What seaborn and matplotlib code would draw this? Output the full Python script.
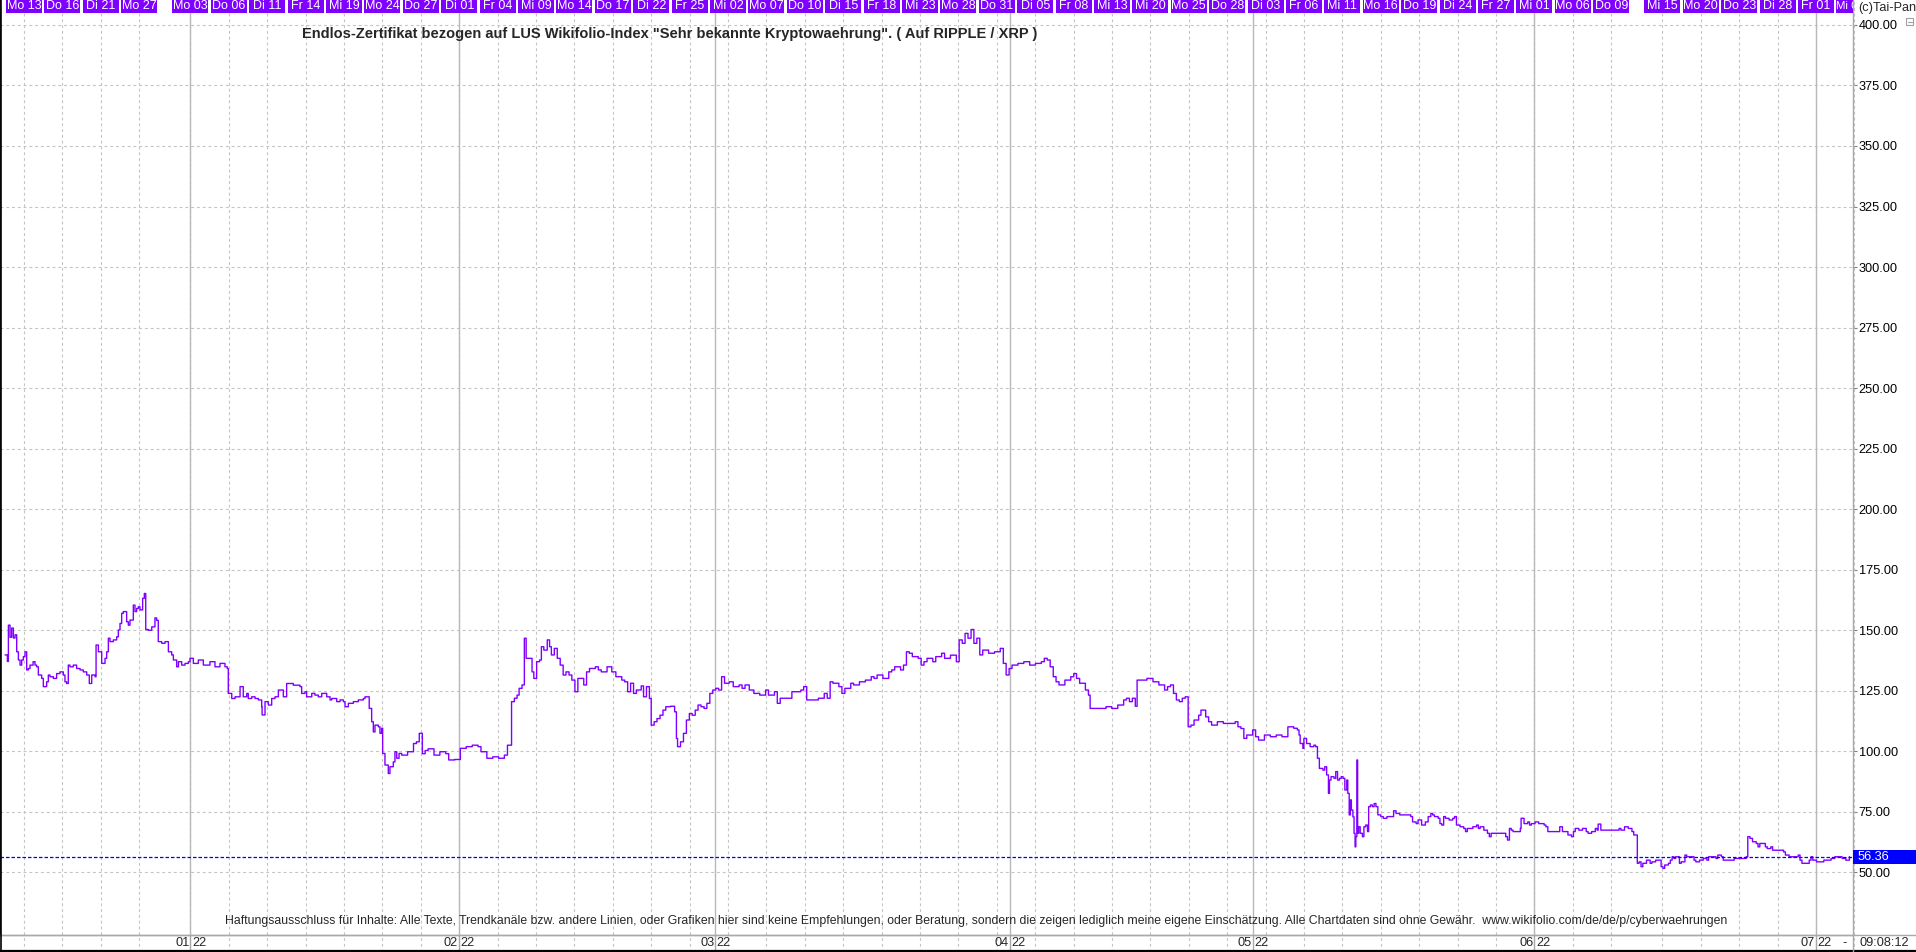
import matplotlib
matplotlib.use("Agg")
import matplotlib.pyplot as plt
import matplotlib.transforms as mtransforms
from matplotlib.patches import Rectangle
from matplotlib.lines import Line2D
import pandas as pd
import seaborn as sns

# ---------------- data ----------------
title = ('Endlos-Zertifikat bezogen auf LUS Wikifolio-Index "Sehr bekannte Kryptowaehrung". '
         '( Auf RIPPLE / XRP )')
footer = ('Haftungsausschluss für Inhalte: Alle Texte, Trendkanäle bzw. andere Linien, oder Grafiken hier '
          'sind keine Empfehlungen, oder Beratung, sondern die zeigen lediglich meine eigene Einschätzung. '
          'Alle Chartdaten sind ohne Gewähr.  www.wikifolio.com/de/de/p/cyberwaehrungen')
copyright_text = "(c)Tai-Pan"
time_text = "09:08:12"

calendar_start = "2021-12-13"
calendar_end = "2022-07-08"
holidays = ["2021-12-24", "2021-12-31", "2022-04-15", "2022-04-18"]

header_dates = ["2021-12-13", "2021-12-16", "2021-12-21", "2021-12-27",
                "2022-01-03", "2022-01-06", "2022-01-11", "2022-01-14", "2022-01-19", "2022-01-24", "2022-01-27",
                "2022-02-01", "2022-02-04", "2022-02-09", "2022-02-14", "2022-02-17", "2022-02-22", "2022-02-25",
                "2022-03-02", "2022-03-07", "2022-03-10", "2022-03-15", "2022-03-18", "2022-03-23", "2022-03-28",
                "2022-03-31", "2022-04-05", "2022-04-08", "2022-04-13", "2022-04-20", "2022-04-25", "2022-04-28",
                "2022-05-03", "2022-05-06", "2022-05-11", "2022-05-16", "2022-05-19", "2022-05-24", "2022-05-27",
                "2022-06-01", "2022-06-06", "2022-06-09", "2022-06-15", "2022-06-20", "2022-06-23", "2022-06-28",
                "2022-07-01", "2022-07-06"]
weekday_names = ["Mo", "Di", "Mi", "Do", "Fr"]

month_starts = ["2022-01-03", "2022-02-01", "2022-03-01", "2022-04-01", "2022-05-02", "2022-06-01", "2022-07-01"]
month_left = ["01", "02", "03", "04", "05", "06", "07"]
month_right = ["22", "22", "22", "22", "22", "22", "22"]

y_ticks = [50, 75, 100, 125, 150, 175, 200, 225, 250, 275, 300, 325, 350, 375, 400]
last_price = 56.36

# position in trading days (0 = Mo 13.12.2021)
day = [
    -1.48, -1.30, -1.22, -1.09, -0.96, -0.83, -0.70, -0.57, -0.44, -0.31,
    -0.18, -0.05, 0.08, 0.21, 0.34, 0.47, 0.71, 0.86, 0.99, 1.12,
    1.38, 1.51, 1.77, 1.90, 2.03, 2.29, 2.55, 2.81, 3.07, 3.20,
    3.33, 3.46, 3.59, 3.85, 4.11, 4.38, 4.63, 4.90, 5.10, 5.29,
    5.55, 5.63, 5.81, 6.07, 6.33, 6.46, 6.59, 6.72, 6.98, 7.24,
    7.37, 7.50, 7.63, 7.76, 8.02, 8.15, 8.28, 8.54, 8.67, 8.80,
    8.93, 9.06, 9.27, 9.40, 9.51, 9.71, 9.98, 10.23, 10.36, 10.49,
    10.76, 11.02, 11.28, 11.54, 11.67, 11.93, 12.07, 12.32, 12.58, 12.84,
    12.97, 13.23, 13.62, 14.01, 14.53, 14.92, 15.31, 15.70, 15.88, 15.96,
    16.23, 16.49, 16.88, 17.13, 17.40, 17.52, 17.79, 18.05, 18.31, 18.57,
    18.60, 18.83, 19.09, 19.35, 19.61, 19.87, 20.26, 20.52, 20.78, 21.04,
    21.30, 21.56, 21.69, 21.95, 22.08, 22.48, 22.73, 22.99, 23.26, 23.65,
    23.91, 24.04, 24.17, 24.43, 24.69, 24.95, 25.08, 25.34, 25.73, 26.12,
    26.51, 26.64, 26.90, 26.97, 27.16, 27.29, 27.42, 27.68, 27.81, 27.94,
    28.02, 28.20, 28.46, 28.59, 28.85, 28.98, 29.12, 29.30,
    29.51, 29.97, 30.43, 30.66, 30.88, 31.12, 31.34, 31.57, 32.03, 32.49,
    32.95, 33.18, 33.64, 34.09, 34.55, 35.02, 35.47, 35.70, 36.16, 36.62,
    37.08, 37.53, 37.77, 37.99, 38.09, 38.31, 38.52, 38.68, 38.91, 39.09,
    39.23, 39.45, 39.69, 39.83, 40.05, 40.28, 40.42, 40.61, 40.88, 41.06,
    41.20, 41.43, 41.66, 41.89, 42.12, 42.34, 42.58, 42.80, 43.04, 43.27,
    43.73, 43.95, 44.18, 44.64, 44.87, 45.10, 45.55, 45.92, 46.24, 46.70,
    46.93, 47.16, 47.39, 47.62, 47.84, 48.22, 48.40, 48.63, 48.86, 49.00,
    49.23, 49.45, 49.69, 49.92, 50.14, 50.51, 50.83, 50.97, 51.06, 51.29,
    51.52, 51.75, 51.98, 52.20, 52.44, 52.66, 52.89, 53.13, 53.35, 53.58,
    53.81, 54.04, 54.27, 54.50, 54.73, 55.09, 55.41, 55.87, 56.10, 56.33,
    56.66, 57.02, 57.48, 57.94, 58.16, 58.63, 58.85, 59.08, 59.31, 59.77,
    59.99, 60.69, 60.91, 61.15, 61.60, 62.06, 62.52, 62.75, 62.98, 63.20,
    63.66, 63.90, 64.13, 64.59, 64.81, 65.27, 65.73, 66.19, 66.41, 66.65,
    67.10, 67.56, 67.79, 68.02, 68.48, 68.71, 68.94, 69.16, 69.40, 69.86,
    70.09, 70.31, 70.55, 71.00, 71.23, 71.69, 71.92, 72.38, 72.84, 73.06,
    73.30, 73.52, 73.75, 73.99, 74.21, 74.44, 74.67, 74.90, 75.36, 75.82,
    76.27, 76.51, 76.73, 76.96, 77.19, 77.65, 78.11, 78.57, 79.02, 79.48,
    79.71, 79.94, 80.17, 80.41, 80.63, 80.86, 81.32, 81.78, 82.01, 82.23,
    82.47, 82.92, 83.16, 83.29, 83.61, 84.07, 84.53, 84.98, 85.45, 85.91,
    86.13, 86.36, 86.59, 86.82, 86.96, 87.28, 87.73, 88.20, 88.66, 89.11,
    89.34, 89.57, 89.80, 90.03, 90.26, 90.49, 90.72, 90.95, 91.17, 91.41,
    91.77, 91.95, 92.32, 92.55, 92.78, 93.23, 93.70, 94.16, 94.62, 94.84,
    95.07, 95.30, 95.53, 95.99, 96.22, 96.45, 96.91, 97.37, 97.83, 98.28,
    98.74,
    99.20, 99.48, 99.61, 99.70, 99.91, 99.99, 100.20, 100.48, 100.77, 100.91,
    101.05, 101.20, 101.48, 101.62, 101.77, 101.91, 101.99, 102.11, 102.34, 102.48,
    102.62, 102.77, 102.91, 103.05, 103.19, 103.34, 103.42, 103.53, 103.62, 103.70,
    103.82, 103.91, 103.99, 104.05, 104.13, 104.19, 104.27, 104.39, 104.56, 104.68,
    104.82, 104.96, 105.05, 105.19, 105.34, 105.48, 105.62, 105.77, 106.00, 106.19,
    106.48, 106.76, 107.00, 107.19, 107.48, 107.76, 108.05, 108.34, 108.48, 108.76,
    108.91, 109.19, 109.48, 109.70, 109.91, 110.05, 110.19, 110.48, 110.62, 110.76,
    110.91, 111.05, 111.33, 111.62, 111.76, 111.91, 112.19, 112.48, 112.62, 112.76,
    113.05, 113.19, 113.48, 113.62, 113.76, 114.05, 114.33, 114.48, 114.62, 114.91,
    115.19, 115.48, 115.76, 115.90, 116.05, 116.19, 116.33, 116.62, 116.90, 116.96,
    117.19, 117.48, 117.62, 117.76, 118.05, 118.33, 118.62, 118.76, 118.90, 119.05,
    119.33, 119.76, 119.98, 120.19, 120.62, 120.90, 121.05, 121.19, 121.47, 121.76,
    122.05, 122.19, 122.47, 122.76, 122.90, 122.98, 123.19, 123.47, 123.90, 124.33,
    124.62, 124.76, 125.04, 125.19, 125.33, 125.62, 125.76, 125.98, 126.04, 126.18,
    126.33, 126.47, 126.76, 127.04, 127.18, 127.47, 127.75, 127.90, 128.04, 128.18,
    128.47, 128.62, 128.76, 128.90, 129.04, 129.33, 129.47, 129.76, 129.90, 130.19,
    130.47, 130.61, 130.90, 131.19, 131.47, 131.61, 131.90, 132.18, 132.33, 132.61,
    132.75, 133.04, 133.33, 133.61, 133.90, 134.19, 134.55, 134.67, 134.84, 135.04,
    135.33, 135.47, 135.61, 135.90, 136.04, 136.19, 136.47, 136.61, 136.90, 137.18,
    137.47, 137.61, 137.90, 138.18, 138.47, 138.61, 138.75, 138.90, 139.18, 139.47,
    139.61, 139.75, 140.04, 140.33, 140.61, 140.90, 141.18, 141.47, 141.75, 142.04,
    142.33, 142.61,
]

price = [
    139.7, 137.0, 152.0, 147.0, 150.8, 146.7, 148.0, 141.0, 137.6, 135.5,
    137.6, 139.0, 141.0, 133.5, 134.1, 135.5, 136.9, 135.5, 134.8, 131.4,
    130.0, 126.6, 128.6, 131.4, 130.7, 130.0, 132.0, 132.7, 131.4, 128.6,
    127.9, 135.5, 134.8, 135.5, 134.1, 133.5, 132.7, 131.4, 127.9, 131.4,
    130.7, 143.8, 141.0, 136.2, 138.3, 141.0, 146.6, 145.2, 145.9, 147.2,
    150.0, 152.7, 156.9, 157.6, 153.4, 152.0, 154.1, 160.3, 157.6, 158.9,
    159.6, 158.3, 163.1, 165.1, 150.2, 149.9, 151.3, 155.0, 154.0, 145.2,
    144.5, 145.2, 141.0, 139.7, 137.6, 134.8, 136.9, 135.5, 136.2, 136.9,
    138.3, 136.2, 137.6, 135.5, 136.9, 134.8, 136.2, 134.8, 134.1, 123.8,
    121.7, 122.4, 126.6, 122.4, 123.8, 121.7, 122.4, 121.7, 121.1, 118.3,
    114.9, 120.4, 119.0, 121.7, 122.4, 125.2, 122.4, 127.9, 127.9, 127.2,
    127.2, 126.6, 123.8, 124.5, 122.4, 123.8, 123.1, 122.4, 123.8, 122.4,
    121.1, 121.7, 121.7, 120.4, 121.1, 120.4, 118.3, 119.7, 120.4, 121.1,
    121.7, 122.4, 122.4, 117.6, 112.1, 107.9, 110.7, 110.0, 107.3, 109.4,
    99.0, 94.2, 90.7, 93.5, 95.5, 99.7, 97.0, 99.0,
    98.3, 99.7, 103.1, 103.8, 107.3, 98.9, 100.2, 100.9, 98.3, 99.7,
    98.9, 96.3, 96.5, 101.1, 101.8, 102.4, 101.8, 99.7, 97.0, 97.6,
    97.0, 98.3, 102.4, 102.4, 120.4, 121.8, 123.1, 125.9, 127.3, 146.6,
    138.3, 138.3, 132.7, 130.0, 136.9, 137.6, 143.1, 141.7, 145.9, 143.1,
    139.7, 142.4, 138.3, 135.5, 131.4, 132.7, 131.4, 129.3, 124.5, 130.0,
    127.3, 132.7, 134.1, 134.8, 133.5, 132.7, 134.8, 132.7, 130.7, 129.3,
    128.6, 124.5, 128.0, 123.8, 125.2, 126.9, 122.4, 126.6, 121.7, 110.7,
    112.1, 113.4, 114.8, 116.9, 118.3, 118.5, 116.2, 105.2, 101.8, 103.8,
    107.3, 112.8, 115.5, 114.8, 116.9, 119.0, 118.3, 117.6, 119.7, 123.8,
    125.2, 125.9, 125.2, 130.7, 128.0, 128.6, 126.6, 127.3, 125.9, 127.3,
    125.2, 123.8, 123.1, 125.2, 123.1, 124.5, 119.7, 121.8, 121.8, 121.8,
    124.5, 125.2, 126.6, 121.1, 121.1, 121.8, 123.8, 121.8, 128.6, 128.0,
    126.6, 123.8, 125.9, 128.0, 127.3, 128.6, 129.3, 130.7, 130.0, 131.4,
    130.0, 132.7, 133.5, 134.8, 133.5, 135.5, 141.0, 140.4, 139.0, 138.3,
    135.5, 136.9, 138.3, 136.9, 139.0, 140.4, 138.3, 139.6, 136.9, 145.9,
    144.5, 148.6, 146.6, 150.2, 144.5, 146.6, 139.7, 141.7, 140.4, 141.0,
    142.4, 136.2, 131.4, 134.1, 135.5, 136.2, 136.9, 135.5, 136.2, 136.9,
    138.3, 137.6, 134.8, 130.7, 128.6, 127.3, 129.3, 130.7, 132.0, 130.0,
    128.0, 125.2, 123.1, 117.6, 117.6, 117.6, 118.3, 117.6, 119.0, 121.1,
    121.8, 120.4, 121.8, 118.5, 129.3, 129.3, 130.0, 128.6, 127.3, 125.2,
    126.6, 127.3, 123.8, 121.1, 120.4, 121.8, 122.4, 110.0, 110.7, 112.8,
    114.8, 116.9, 114.1, 112.1, 110.7, 112.1, 111.4, 111.4, 112.1, 110.0,
    109.3, 105.2, 106.6, 108.7, 105.9, 104.5, 106.6, 105.9, 106.6, 105.9,
    110.0,
    109.4, 108.7, 106.6, 103.1, 101.1, 105.2, 103.1, 101.8, 102.4, 101.8,
    97.0, 92.8, 92.1, 93.5, 90.1, 82.5, 88.0, 89.4, 88.7, 91.5,
    88.0, 88.7, 89.4, 88.7, 83.9, 88.0, 82.5, 73.6, 79.8, 75.6,
    72.8, 66.0, 60.4, 64.6, 96.3, 66.0, 68.7, 66.0, 64.6, 68.7,
    69.4, 66.7, 77.0, 77.7, 77.0, 78.3, 77.0, 73.6, 72.9, 72.2,
    72.9, 72.9, 75.3, 74.2, 73.6, 73.6, 73.6, 72.9, 70.7, 70.0,
    71.5, 69.4, 70.7, 72.9, 74.2, 73.6, 72.9, 72.2, 70.0, 69.4,
    72.9, 72.2, 71.5, 72.2, 72.9, 69.4, 68.7, 68.0, 66.7, 68.0,
    68.0, 68.7, 69.4, 68.0, 68.7, 67.3, 66.0, 64.6, 66.0, 66.0,
    66.0, 66.0, 64.6, 63.2, 68.0, 67.3, 66.7, 66.7, 68.0, 72.2,
    70.0, 70.7, 69.4, 70.0, 70.7, 70.0, 70.0, 69.4, 68.7, 66.7,
    66.7, 66.7, 68.7, 66.7, 65.3, 64.6, 66.7, 68.0, 67.3, 68.0,
    66.7, 66.0, 66.7, 68.0, 67.3, 69.8, 67.3, 67.3, 67.3, 67.3,
    68.0, 67.3, 68.7, 68.7, 68.0, 66.7, 65.3, 65.3, 53.6, 54.2,
    52.2, 53.6, 54.9, 53.6, 54.2, 54.9, 54.9, 52.2, 51.5, 52.9,
    53.6, 54.9, 56.3, 55.6, 56.3, 53.6, 54.2, 57.0, 56.3, 56.3,
    54.9, 54.2, 54.9, 55.6, 54.9, 56.3, 56.3, 55.6, 57.0, 56.3,
    54.9, 54.9, 54.9, 55.6, 55.6, 55.6, 56.3, 64.6, 63.9, 62.5,
    61.8, 60.4, 61.8, 61.8, 60.4, 59.7, 60.4, 59.0, 59.0, 59.0,
    58.3, 57.0, 56.3, 56.3, 56.3, 57.0, 54.9, 53.6, 53.6, 54.9,
    56.3, 54.9, 54.2, 54.2, 54.9, 54.9, 55.6, 56.3, 56.3, 55.6,
    54.9, 56.36,
]
assert len(day) == len(price), (len(day), len(price))

# ---------------- style ----------------
sns.set_style("white")
plt.rcParams["font.family"] = ["Liberation Sans", "DejaVu Sans"]

PURPLE = "#8000ff"
GRID = "#c4c4c4"
AXIS_GRAY = "#a8a8a8"

W, H = 1916, 952
fig = plt.figure(figsize=(W / 100, H / 100), dpi=100)
fig.patch.set_facecolor("white")


def fx(px):
    return px / W


def fy(py):
    return 1 - py / H


AX_RIGHT, AX_BOTTOM = 1853, 935
ax = fig.add_axes([0, fy(AX_BOTTOM), fx(AX_RIGHT), AX_BOTTOM / H])
ax.set_facecolor("white")

# trading-day calendar
cal = pd.bdate_range(calendar_start, calendar_end)
cal = cal[~cal.isin(pd.to_datetime(holidays))]
pos = {d: i for i, d in enumerate(cal)}
header_ts = pd.to_datetime(header_dates)
header_pos = [pos[d] for d in header_ts]
header_txt = [f"{weekday_names[d.weekday()]} {d.day:02d}" for d in header_ts]
month_pos = [pos[d] for d in pd.to_datetime(month_starts)]

XMIN, XMAX = -1.875, 142.89
ax.set_xlim(XMIN, XMAX)
ax.set_ylim(23.97, 410.33)

strip = (AX_BOTTOM - H) / AX_BOTTOM  # axes-fraction of figure bottom
tr_x = mtransforms.blended_transform_factory(ax.transData, ax.transAxes)
tr_y = mtransforms.blended_transform_factory(ax.transAxes, ax.transData)

# grid
for yv in y_ticks:
    ax.axhline(yv, color=GRID, lw=0.8, ls=(0, (2.6, 2.6)), zorder=1)
ax.vlines(header_pos, strip, 1, transform=tr_x, colors=GRID, lw=0.8,
          linestyles=(0, (2.6, 2.6)), zorder=1, clip_on=False)
ax.vlines(month_pos, 0, 1, transform=tr_x, colors="#b8b8b8", lw=1.0, zorder=1)

# price line
sns.lineplot(x=day, y=price, ax=ax, color=PURPLE, lw=1.0, drawstyle="steps-post",
             estimator=None, sort=False, zorder=3)

# last price line + box
ax.axhline(last_price, color="#0000ff", lw=0.9, ls=(0, (2.8, 1.6)), zorder=4)
ax.add_patch(Rectangle((1.0, last_price - 2.9), (W - AX_RIGHT) / AX_RIGHT, 5.8,
                       transform=tr_y, fc="#0000ff", ec="none", clip_on=False, zorder=6))
ax.text(1.0 + 5 / AX_RIGHT, last_price, f"{last_price:.2f}", transform=tr_y,
        color="white", fontsize=9.2, va="center", ha="left", zorder=7, clip_on=False)

# header band with weekday labels
band_h = 12.5 / AX_BOTTOM
for p, t in zip(header_pos, header_txt):
    ax.add_patch(Rectangle((p - 1.5 + 0.09, 1 - band_h), 3 - 0.18, band_h,
                           transform=tr_x, fc=PURPLE, ec="none", zorder=8, clip_on=True))
    if p + 1.2 <= XMAX:
        ax.text(p, 1 - band_h / 2, t, transform=tr_x, color="white", fontsize=9,
                ha="center", va="center", zorder=9, clip_on=True)
    else:
        # label cut by the right edge of the plot, as in the original
        ax.text(p - 1.42, 1 - band_h / 2, t[:4], transform=tr_x, color="white", fontsize=8.2,
                ha="left", va="center", zorder=9, clip_on=True)

# axes styling
ax.yaxis.tick_right()
ax.set_yticks(y_ticks)
ax.set_yticklabels([f"{v:.2f}" for v in y_ticks])
ax.tick_params(axis="y", length=3.2, width=0.8, color="#808080", pad=0.8,
               labelsize=9.2, labelcolor="black")
ax.set_xticks([])
ax.set_xlabel("")
ax.set_ylabel("")
ax.spines["top"].set_visible(False)
ax.spines["left"].set_color("black")
ax.spines["left"].set_linewidth(1.2)
ax.spines["right"].set_color(AXIS_GRAY)
ax.spines["right"].set_linewidth(1.0)
ax.spines["bottom"].set_color(AXIS_GRAY)
ax.spines["bottom"].set_linewidth(1.0)

# month labels in bottom strip
lab_y = -(943 - AX_BOTTOM) / AX_BOTTOM
ax.vlines(month_pos, strip, 0, transform=tr_x, colors=AXIS_GRAY, lw=1.0, clip_on=False)
for p, a, b in zip(month_pos, month_left, month_right):
    ax.text(p - 0.08, lab_y, a, transform=tr_x, fontsize=9.2, ha="right", va="center", clip_on=False)
    ax.text(p + 0.12, lab_y, b, transform=tr_x, fontsize=9.2, ha="left", va="center", clip_on=False)

# figure-level frame lines
fig.add_artist(Line2D([0, 1], [fy(AX_BOTTOM), fy(AX_BOTTOM)], transform=fig.transFigure,
                      color=AXIS_GRAY, lw=1.0))
fig.add_artist(Line2D([0, 1], [fy(951), fy(951)], transform=fig.transFigure, color="black", lw=1.6))
fig.add_artist(Line2D([fx(0.5), fx(0.5)], [0, 1], transform=fig.transFigure, color="black", lw=1.2))
fig.add_artist(Line2D([fx(AX_RIGHT), fx(AX_RIGHT)], [fy(952), fy(AX_BOTTOM)],
                      transform=fig.transFigure, color=AXIS_GRAY, lw=1.0))

# texts
fig.text(fx(302), fy(34), title, fontsize=10.5, fontweight="bold", ha="left", va="center")
fig.text(fx(225), fy(921), footer, fontsize=8.8, ha="left", va="center")
fig.text(fx(1858), fy(8), copyright_text, fontsize=9.2, ha="left", va="center")
fig.text(fx(1845), fy(943), "-", fontsize=9.2, ha="center", va="center")
fig.text(fx(1859), fy(943), time_text, fontsize=9.2, ha="left", va="center")

# small collapse box at top right
fig.add_artist(Rectangle((fx(1906), fy(25)), 7 / W, 7 / H, transform=fig.transFigure,
                         fc="white", ec="#a0a0a0", lw=0.8))
fig.add_artist(Line2D([fx(1907.5), fx(1911.5)], [fy(21.5), fy(21.5)], transform=fig.transFigure,
                      color="#a0a0a0", lw=0.8))

fig.savefig("out.png", dpi=100, facecolor="white")
